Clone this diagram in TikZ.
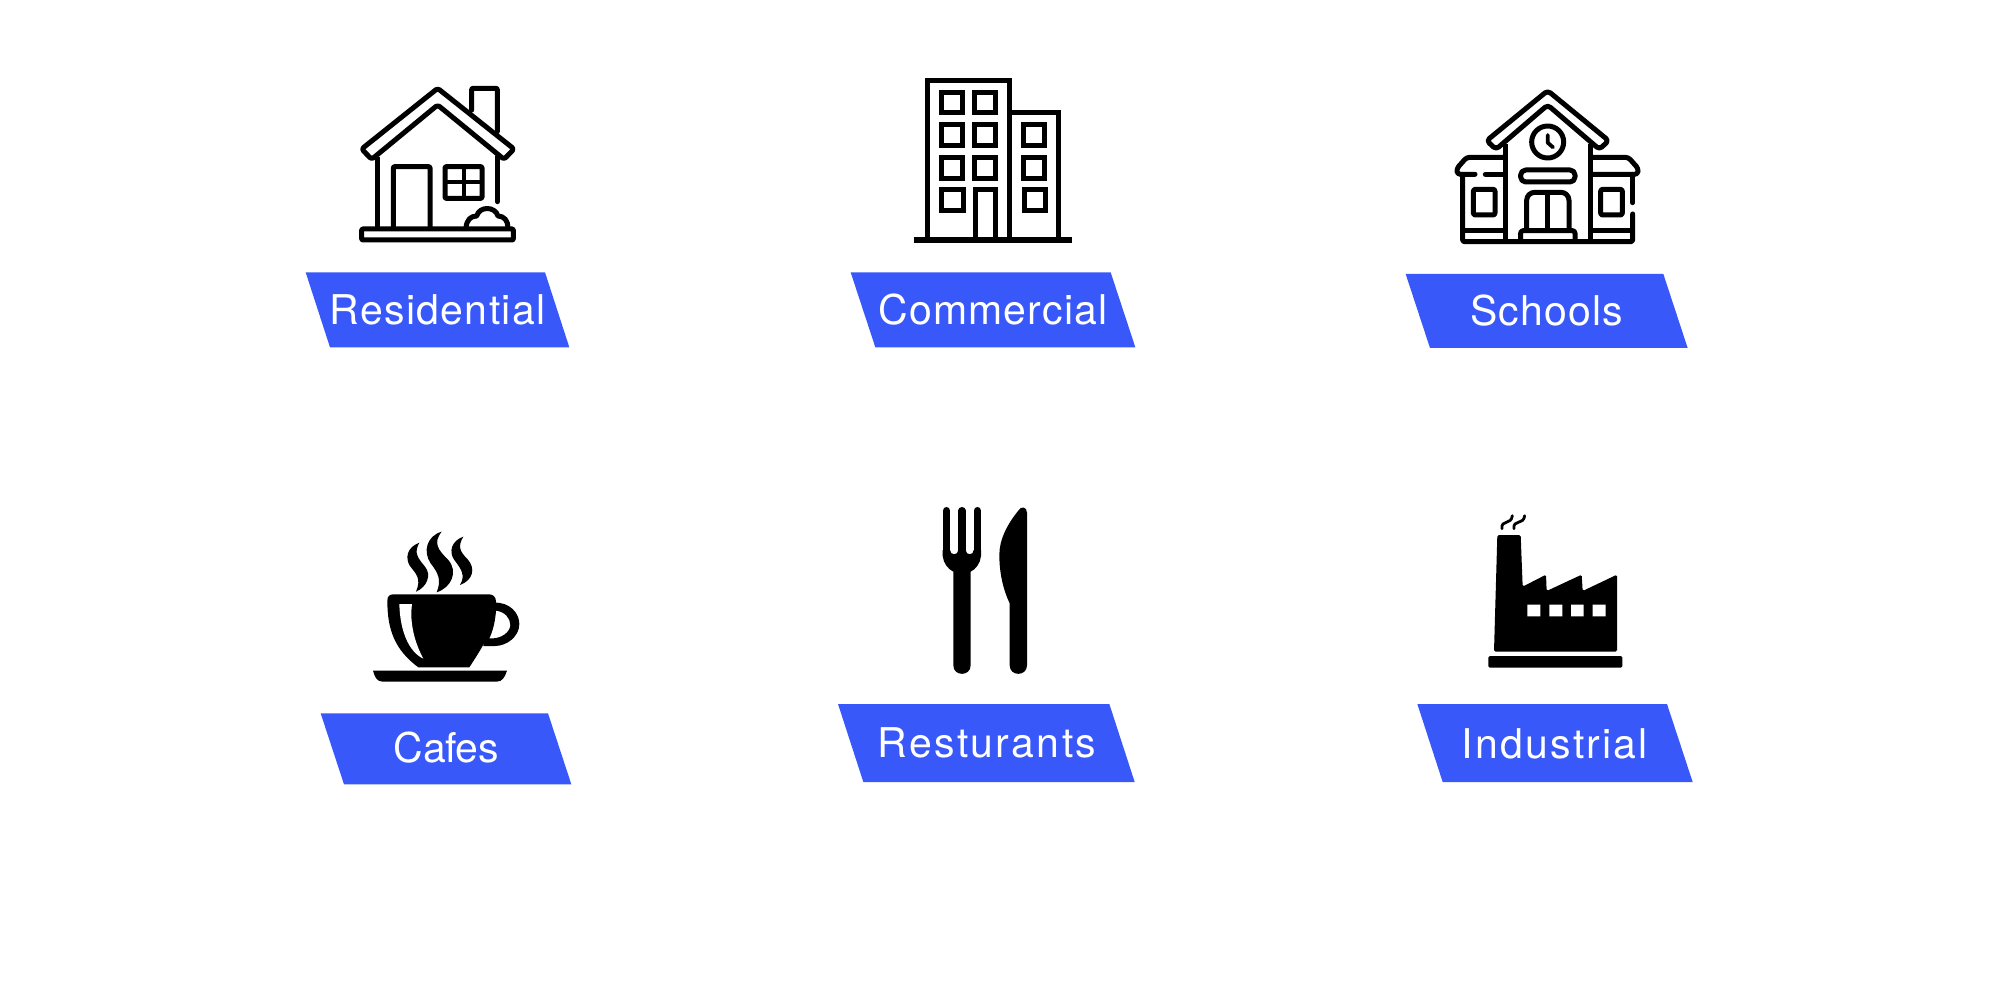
\documentclass[tikz,border=0pt]{standalone}
\usepackage{fontspec}
\setmainfont{TeX Gyre Heros}
\newcommand\trackedlabel[2]{\addfontfeatures{LetterSpace=#1}#2}
\definecolor{bannerblue}{RGB}{56,88,249}
\tikzset{
  zoomed/.style n args={2}{shift={(#1pt,-#2pt)},x=0.33333pt,y=-0.33333pt},
  icon/.style={draw=black,line width=5pt,line join=round,line cap=round,fill=none},
  sharp/.style={draw=black,line width=5pt,line join=miter,line cap=butt,fill=none},
  banner/.style={fill=bannerblue,draw=none},
  lab/.style={text=white,anchor=base,inner sep=0pt,font=\fontsize{41}{41}\selectfont}
}
\begin{document}
\begin{tikzpicture}
\useasboundingbox (0,0) rectangle (2000pt,-1000pt);
\fill[white] (0,0) rectangle (2000pt,-1000pt);

% Residential
\begin{scope}[zoomed={280}{60}]
\path[icon,rounded corners=2.5pt] (245,267) -- (473,85) -- (702,267) -- (672,298) -- (473,135) -- (275,298) -- cycle;
\path[icon,rounded corners=1pt] (575,150) -- (575,85) -- (652,85) -- (652,215);
\path[icon,line cap=butt] (293,290) -- (293,505);
\path[icon] (652,290) -- (652,425);
\path[icon,rounded corners=1pt,line cap=butt] (340,505) -- (340,320) -- (450,320) -- (450,505);
\path[icon,rounded corners=1pt] (495,320) rectangle (606,415);
\path[icon,line width=3.8pt,line cap=butt] (551,320) -- (551,415) (495,367) -- (606,367);
\path[icon,rounded corners=1pt] (245,507) rectangle (700,540);
\path[icon,line cap=butt] (558,503) .. controls (560,480) and (572,468) .. (590,468)
  .. controls (598,438) and (645,438) .. (654,468) .. controls (672,468) and (684,482) .. (684,503);
\fill[banner] (77,637) -- (795,637) -- (868,862) -- (150,862) -- cycle;
\node[lab] (residential) at (473,795) {\trackedlabel{3.2}{Residential}};
\end{scope}

% Commercial
\begin{scope}[zoomed={840}{60}]
\path[sharp] (261,535) -- (261,62) -- (509,62) -- (509,535);
\path[sharp] (509,157) -- (656,157) -- (656,535);
\fill[black] (222,532) rectangle (695,550);
\foreach \xa/\ya/\xb/\yb in {305/97/367/159,403/97/466/159,305/195/367/257,403/195/466/257,305/293/367/355,403/293/466/355,305/390/370/453,551/195/614/257,551/293/614/355,552/390/616/453}
  \path[sharp] (\xa,\ya) rectangle (\xb,\yb);
\path[sharp] (405,535) -- (405,390) -- (467,390) -- (467,535);
\fill[banner] (32,637) -- (812,637) -- (886,862) -- (106,862) -- cycle;
\node[lab] (commercial) at (459,795) {\trackedlabel{3}{Commercial}};
\end{scope}

% Schools
\begin{scope}[zoomed={1400}{70}]
\path[icon,rounded corners=3.5pt] (443,62) -- (626,212) -- (598,238) -- (443,105) -- (288,238) -- (260,212) -- cycle;
\path[icon,line cap=butt] (315,222) -- (315,512) (572,222) -- (572,512);
\draw[icon] (443,216) circle (48);
\path[icon,line width=3.8pt] (443,195) -- (443,218) -- (459,232);
\path[icon,rounded corners=5pt] (362,336) -- (362,300) -- (525,300) -- (525,336) -- cycle;
\path[icon,line cap=butt,rounded corners=8pt] (380,478) -- (380,367) -- (507,367) -- (507,478);
\path[icon,line cap=butt] (443,367) -- (443,478);
\path[icon,line cap=butt,rounded corners=2.5pt] (362,512) -- (362,482) -- (525,482) -- (525,512);
\path[icon,rounded corners=3pt] (315,262) -- (200,262) -- (170,296) -- (172,313) -- (225,313);
\path[icon] (256,313) -- (315,313);
\path[icon,rounded corners=3pt,line cap=butt] (572,262) -- (685,262) -- (715,296) -- (713,313) -- (572,313);
\path[icon,rounded corners=1.5pt] (188,313) -- (188,515) -- (698,515) -- (698,432);
\path[icon] (698,398) -- (698,313);
\path[icon,rounded corners=2pt] (220,358) rectangle (285,435);
\path[icon,rounded corners=2pt] (602,358) rectangle (667,435);
\path[icon,line cap=butt] (188,483) -- (315,483) (572,483) -- (698,483);
\fill[banner] (17,612) -- (790,612) -- (863,834) -- (90,834) -- cycle;
\node[lab] (schools) at (440,767) {\trackedlabel{3}{Schools}};
\end{scope}

% Cafes
\begin{scope}[zoomed={310}{510}]
% steam
\fill[black] (328,98) .. controls (290,112) and (285,145) .. (300,168)
  .. controls (318,192) and (335,205) .. (318,245)
  .. controls (350,232) and (366,195) .. (345,170)
  .. controls (325,145) and (310,130) .. (328,98) -- cycle;
\fill[black] (395,65) .. controls (350,78) and (338,125) .. (362,160)
  .. controls (385,190) and (395,210) .. (380,247)
  .. controls (425,232) and (445,185) .. (415,150)
  .. controls (385,120) and (368,100) .. (395,65) -- cycle;
\fill[black] (460,80) .. controls (425,92) and (415,125) .. (433,150)
  .. controls (452,175) and (468,195) .. (450,225)
  .. controls (490,210) and (497,175) .. (473,148)
  .. controls (450,125) and (442,110) .. (460,80) -- cycle;
% handle
\fill[black,even odd rule] (550,278) .. controls (600,275) and (628,310) .. (628,342)
  .. controls (628,380) and (590,408) .. (555,408) -- (520,408) -- (520,300) -- cycle
  (558,302) .. controls (585,305) and (601,325) .. (601,345)
  .. controls (601,365) and (575,388) .. (538,385) .. controls (550,360) and (556,330) .. (558,302) -- cycle;
% cup body
\fill[black] (232,272) .. controls (232,260) and (238,253) .. (250,253) -- (538,253)
  .. controls (550,253) and (558,262) .. (558,275)
  .. controls (558,340) and (535,385) .. (478,472) -- (325,472)
  .. controls (255,420) and (232,360) .. (232,272) -- cycle;
\fill[white] (268,282) -- (306,282) .. controls (298,340) and (315,400) .. (340,446)
  .. controls (295,425) and (270,360) .. (268,282) -- cycle;
\fill[black] (189,482) -- (591,482) .. controls (585,500) and (578,515) .. (560,515)
  -- (218,515) .. controls (200,515) and (194,500) .. (189,482) -- cycle;
\fill[banner] (32,610) -- (714,610) -- (784,823) -- (102,823) -- cycle;
\node[lab] (cafes) at (409,757) {\trackedlabel{-1}{Cafes}};
\end{scope}

% Resturants
\begin{scope}[zoomed={830}{490}]
\path[draw=black,line width=7.4pt,line cap=round] (349.5,62) -- (349.5,190) (396,62) -- (396,190) (442,62) -- (442,190);
\fill[black] (338,180) -- (338,198) .. controls (340,220) and (355,238) .. (370,245)
  -- (370,526) .. controls (370,560) and (422,560) .. (422,526) -- (422,245)
  .. controls (437,238) and (451,220) .. (453,198) -- (453,180)
  -- (431,180) .. controls (431,197) and (407,197) .. (407,180)
  -- (385,180) .. controls (385,197) and (360,197) .. (360,180) -- cycle;
\fill[black] (591,68) .. controls (591,50) and (572,47) .. (565,62)
  .. controls (530,105) and (508,150) .. (508,195)
  .. controls (508,250) and (520,300) .. (539,340)
  -- (539,526) .. controls (539,560) and (591,560) .. (591,526) -- cycle;
\fill[banner] (24,642) -- (838,642) -- (914,876) -- (100,876) -- cycle;
\node[lab] (resturants) at (471,803) {\trackedlabel{5.8}{Resturants}};
\end{scope}

% Industrial
\begin{scope}[zoomed={1410}{500}]
\path[draw=black,line width=2.8pt,line cap=round] (276,86) .. controls (272,58) and (304,76) .. (307,47);
\path[draw=black,line width=2.8pt,line cap=round] (312,86) .. controls (308,58) and (341,76) .. (344,47);
\fill[black,rounded corners=1.5pt] (262,105) -- (332,105) -- (338,260) -- (408,224) -- (410,273) -- (515,224) -- (518,273) -- (621,224) -- (621,455) -- (252,455) -- cycle;
\fill[white] (352,314) rectangle (391,349) (418,314) rectangle (457,349) (483,314) rectangle (521,349) (548,314) rectangle (587,349);
\fill[black,rounded corners=1.5pt] (235,468) rectangle (637,503);
\fill[banner] (22,612) -- (771,612) -- (848,846) -- (98,846) -- cycle;
\node[lab] (industrial) at (435,775) {\trackedlabel{5.4}{Industrial}};
\end{scope}
\end{tikzpicture}
\end{document}
